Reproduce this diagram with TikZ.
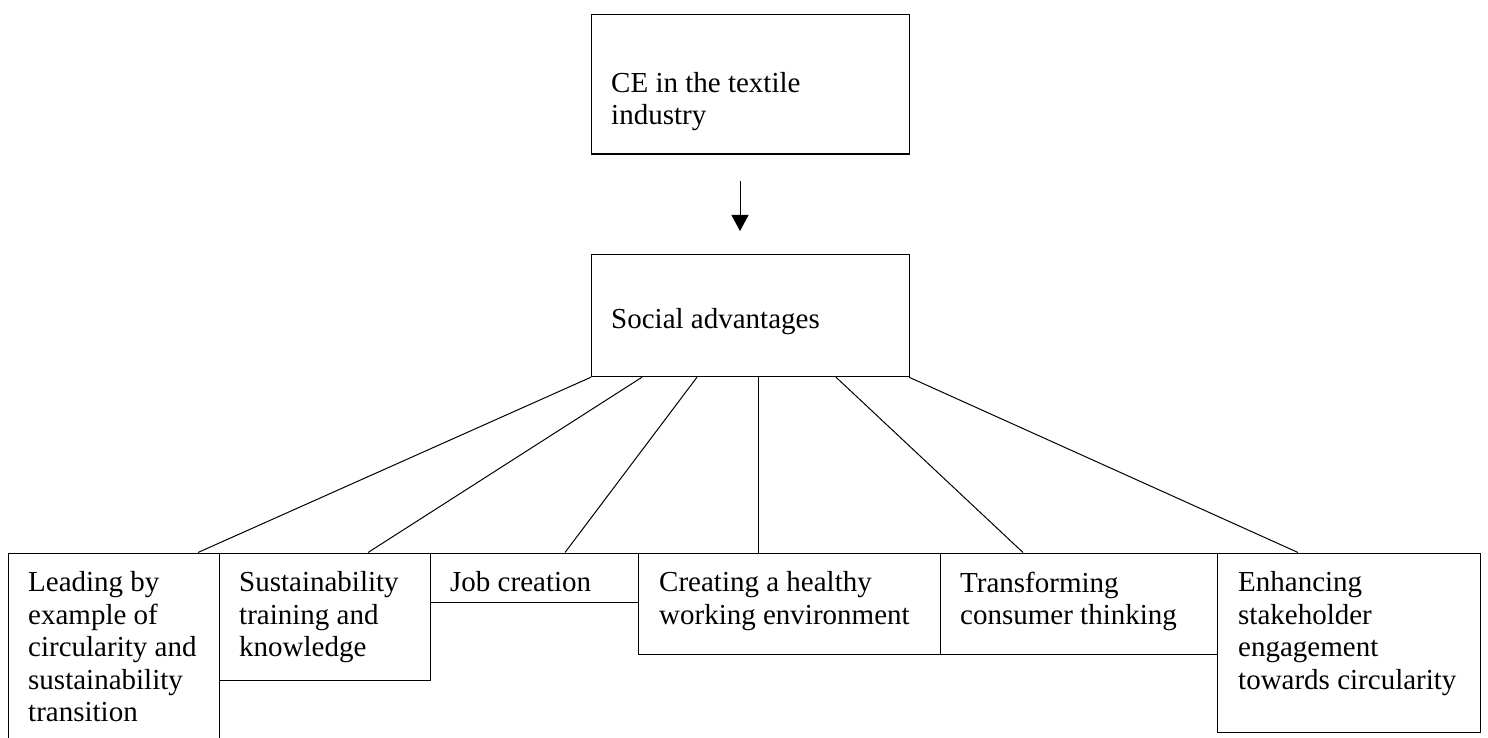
\documentclass[tikz,border=0pt]{standalone}
\usepackage{fontspec}
\setmainfont{Liberation Serif}
\usetikzlibrary{arrows.meta,calc}

\tikzset{
  box/.style={draw, line width=1.2pt, rectangle, inner sep=0pt, anchor=north west},
  boxtext/.style={anchor=north west, align=left, inner sep=0pt,
    font=\fontsize{29pt}{32.5pt}\selectfont},
  link/.style={line width=1pt},
}

\begin{document}
\begin{tikzpicture}[x=1pt,y=-1pt]
  \clip (0,0) rectangle (1488,738);

  % top of the chart
  \node[box, minimum width=318pt, minimum height=139.5pt] (ce) at (591,14) {};
  \node[boxtext] (cetext) at ($(ce.north west)+(20,58)$) {CE in the textile\\industry};
  \coordinate (arrtop) at (740,181);
  \coordinate (arrtip) at (740,231);
  \draw[link, -{Triangle[width=17pt,length=16pt]}] (arrtop) -- (arrtip);
  \node[box, minimum width=318pt, minimum height=122.5pt] (social) at (591,253.5) {};
  \node[boxtext] (socialtext) at ($(social.north west)+(20,55)$) {Social advantages};

  % the six advantages
  \node[box, minimum width=211pt, minimum height=200pt] (lead) at (8,552.5) {};
  \node[box, minimum width=211pt, minimum height=127pt] (train) at (219,552.5) {};
  \node[box, minimum width=208pt, minimum height=49pt] (job) at (430,552.5) {};
  \node[box, minimum width=302pt, minimum height=101pt] (health) at (638,552.5) {};
  \node[box, minimum width=277pt, minimum height=101pt] (consumer) at (940,552.5) {};
  \node[box, minimum width=263pt, minimum height=179pt] (stake) at (1217,552.5) {};

  \node[boxtext] (leadtext) at ($(lead.north west)+(20,19)$)
    {Leading by\\example of\\circularity and\\sustainability\\transition};
  \node[boxtext] (traintext) at ($(train.north west)+(20,19)$)
    {Sustainability\\training and\\knowledge};
  \node[boxtext] (jobtext) at ($(job.north west)+(20,19)$) {Job creation};
  \node[boxtext] (healthtext) at ($(health.north west)+(21,19)$)
    {Creating a healthy\\working environment};
  \node[boxtext] (consumertext) at ($(consumer.north west)+(20,19)$)
    {Transforming\\consumer thinking};
  \node[boxtext] (staketext) at ($(stake.north west)+(21,19)$)
    {Enhancing\\stakeholder\\engagement\\towards circularity};

  % branches
  \foreach \s/\b/\e in {0/lead/190, 51/train/149, 106/job/135,
                        167/health/120, 245/consumer/83, 318/stake/81} {
    \draw[link] ([xshift=\s pt]social.south west) -- ([xshift=\e pt]\b.north west);
  }
\end{tikzpicture}
\end{document}
